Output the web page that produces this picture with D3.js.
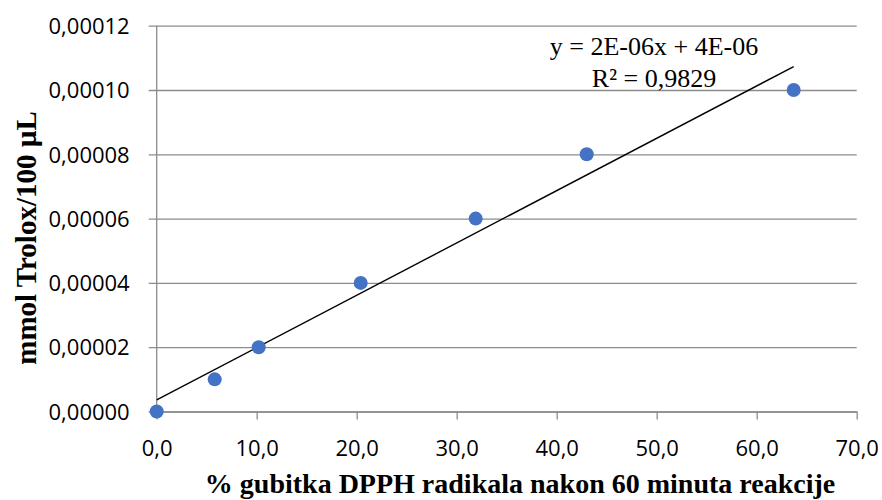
<!DOCTYPE html>
<html>
<head>
<meta charset="utf-8">
<script src="https://cdn.jsdelivr.net/npm/d3@7"></script>
<style>
  html, body { margin: 0; padding: 0; background: #fff; }
  svg { display: block; }
</style>
</head>
<body>
<svg id="chart" width="882" height="500"></svg>
<script>
// ---- data ----
const xValues = [0.0, 5.8, 10.2, 20.4, 31.9, 43.0, 63.7];
const yValues = [0.00000, 0.00001, 0.00002, 0.00004, 0.00006, 0.00008, 0.00010];
const xTicks = [0, 10, 20, 30, 40, 50, 60, 70];
const yTicks = [0, 0.00002, 0.00004, 0.00006, 0.00008, 0.00010, 0.00012];
const equationLines = ["y = 2E-06x + 4E-06", "R\u00B2 = 0,9829"];
const xTitle = "% gubitka DPPH radikala nakon 60 minuta reakcije";
const yTitle = "mmol Trolox/100 \u00B5L";

// ---- layout ----
const svg = d3.select("#chart");
const pLeft = 156.7, pRight = 856.7, pTop = 25.7, pBottom = 411.5;
const x = d3.scaleLinear().domain([0, 70]).range([pLeft, pRight]);
const y = d3.scaleLinear().domain([0, 0.00012]).range([pBottom, pTop]);
const gridColor = "#8c8c8c";
const tickFont = "'Open Sans', sans-serif";
const serif = "'Liberation Serif', 'Times New Roman', serif";

// horizontal gridlines + y axis
const yAxis = d3.axisLeft(y).tickValues(yTicks).tickSize(-(pRight - pLeft)).tickSizeOuter(0)
  .tickFormat(d => d3.format(".5f")(d).replace(".", ","));
const gy = svg.append("g").attr("transform", `translate(${pLeft},0)`).call(yAxis);
gy.select(".domain").remove();
gy.selectAll(".tick line").attr("stroke", gridColor).attr("stroke-width", 1.3)
  .attr("x1", -8);
gy.selectAll(".tick text").attr("x", -27).attr("dy", "0.35em")
  .style("font-family", tickFont).style("font-size", "22px").attr("fill", "#000");

// vertical y-axis line
svg.append("line").attr("x1", pLeft).attr("x2", pLeft).attr("y1", pTop).attr("y2", pBottom)
  .attr("stroke", gridColor).attr("stroke-width", 1.3);

// x axis
const xAxis = d3.axisBottom(x).tickValues(xTicks).tickSize(8).tickSizeOuter(0)
  .tickFormat(d => d3.format(".1f")(d).replace(".", ","));
const gx = svg.append("g").attr("transform", `translate(0,${pBottom})`).call(xAxis);
gx.select(".domain").attr("stroke", gridColor).attr("stroke-width", 1.3);
gx.selectAll(".tick line").attr("stroke", gridColor).attr("stroke-width", 1.3);
gx.selectAll(".tick text").attr("y", 37).attr("dy", "0.35em")
  .style("font-family", tickFont).style("font-size", "22px").attr("fill", "#000");

// linear regression trendline from data
const n = xValues.length;
const mx = d3.mean(xValues), my = d3.mean(yValues);
let sxy = 0, sxx = 0;
for (let i = 0; i < n; i++) { sxy += (xValues[i] - mx) * (yValues[i] - my); sxx += (xValues[i] - mx) ** 2; }
const slope = sxy / sxx, intercept = my - slope * mx;
const x0 = 0, x1 = d3.max(xValues);
svg.append("line")
  .attr("x1", x(x0)).attr("y1", y(intercept + slope * x0))
  .attr("x2", x(x1)).attr("y2", y(intercept + slope * x1))
  .attr("stroke", "#000").attr("stroke-width", 1.4);

// points
svg.append("g").selectAll("circle").data(xValues.map((v, i) => [v, yValues[i]])).join("circle")
  .attr("cx", d => x(d[0])).attr("cy", d => y(d[1])).attr("r", 7)
  .attr("fill", "#4472C4");

// equation
svg.append("g").selectAll("text").data(equationLines).join("text")
  .attr("x", 654).attr("y", (d, i) => 55 + i * 32)
  .attr("text-anchor", "middle")
  .style("font-family", serif).style("font-size", "26px").attr("fill", "#000")
  .text(d => d);

// axis titles
svg.append("text").attr("x", 520).attr("y", 493)
  .attr("text-anchor", "middle")
  .style("font-family", serif).style("font-size", "28px").style("font-weight", "bold")
  .text(xTitle);
svg.append("text").attr("transform", `translate(36,238) rotate(-90)`)
  .attr("text-anchor", "middle")
  .style("font-family", serif).style("font-size", "29px").style("font-weight", "bold")
  .text(yTitle);
</script>
</body>
</html>
